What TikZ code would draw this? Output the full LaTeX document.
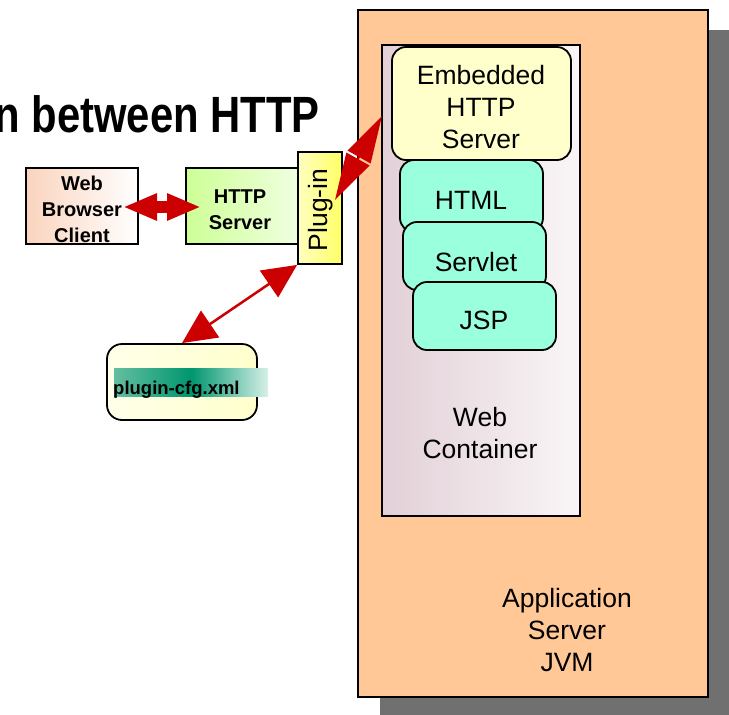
\documentclass[tikz,border=0pt]{standalone}
\usepackage{graphicx}
\usepackage{fontspec}
\setmainfont{Liberation Sans}
\usetikzlibrary{arrows.meta,calc}
\definecolor{peach}{RGB}{255,200,150}
\definecolor{shadowgray}{RGB}{112,112,112}
\definecolor{arrowred}{RGB}{204,0,0}
\definecolor{aqua}{RGB}{153,255,221}
\definecolor{paleyellow}{RGB}{255,255,204}
\definecolor{containerpink}{RGB}{226,208,215}
\definecolor{browserpeach}{RGB}{250,212,190}
\definecolor{httpgreen}{RGB}{205,255,150}
\definecolor{plugyellow}{RGB}{255,255,100}
\definecolor{tealdark}{RGB}{0,150,110}
\definecolor{tealmid}{RGB}{100,190,160}
\definecolor{teallight}{RGB}{215,240,232}
\tikzset{
  box/.style={draw=black, line width=1.8pt, inner sep=0pt},
  bigtext/.style={font=\fontsize{26.5}{32}\selectfont, align=center, inner sep=0pt},
  boldtext/.style={font=\bfseries\fontsize{20}{26}\selectfont, align=center, inner sep=0pt},
  blob/.style={box, rounded corners=14pt, fill=aqua},
  redline/.style={draw=arrowred, fill=arrowred},
}
\begin{document}
\begin{tikzpicture}[x=1pt,y=-1pt]
\useasboundingbox (0,0) rectangle (729,715);
% application server with shadow
\fill[shadowgray] (380,30) rectangle (729,715);
\node[box, fill=peach, minimum width=350pt, minimum height=687pt] (appserver) at (533,353.5) {};
\node[bigtext] (apptext) at (567,630) {Application\\Server\\JVM};
% web container
\node[box, left color=containerpink, right color=white!80!containerpink, minimum width=198pt, minimum height=471pt] (container) at (481,280.5) {};
\node[bigtext] (containertext) at (480,433) {Web\\Container};
% components
\node[box, rounded corners=14pt, fill=paleyellow, minimum width=179pt, minimum height=113pt] (embedded) at (481.5,103.5) {};
\node[bigtext] (embeddedtext) at (481,107) {Embedded\\HTTP\\Server};
\node[blob, minimum width=143pt, minimum height=72pt] (html) at (471.5,196) {};
\node[bigtext] (htmltext) at (471,200) {HTML};
\node[blob, minimum width=143pt, minimum height=68pt] (servlet) at (474.5,256) {};
\node[bigtext] (servlettext) at (476,262) {Servlet};
\node[blob, minimum width=143pt, minimum height=68pt] (jsp) at (484.5,316) {};
\node[bigtext] (jsptext) at (484,320) {JSP};
% title
\node[anchor=base east, inner sep=0pt, font=\bfseries\fontsize{51}{51}\selectfont] (title) at (320,132) {\scalebox{0.82}[1]{n between HTTP}};
% left side boxes
\node[box, left color=browserpeach, right color=white, minimum width=112pt, minimum height=76pt] (browser) at (82,206) {};
\node[boldtext] (browsertext) at (82,209) {Web\\Browser\\Client};
\node[box, left color=httpgreen, right color=white!70!httpgreen, minimum width=112pt, minimum height=76pt] (http) at (242,206) {};
\node[boldtext] (httptext) at (240,210) {HTTP\\Server};
\node[box, left color=white!60!plugyellow, right color=plugyellow, minimum width=44pt, minimum height=112pt] (plugin) at (320,208) {};
\node[bigtext, rotate=90] (plugintext) at (321,210) {Plug-in};
% config file
\node[box, rounded corners=15pt, left color=white!60!paleyellow, right color=paleyellow, minimum width=150pt, minimum height=76pt] (cfg) at (182,382) {};
\node[inner sep=0pt, minimum width=154pt, minimum height=28pt, left color=tealmid, right color=teallight, middle color=tealdark] (cfghl) at (191,382) {};
\node[anchor=base west, inner sep=0pt, font=\bfseries\fontsize{18.5}{22}\selectfont] (cfgtext) at (113,394) {plugin-cfg.xml};
% connectors
\coordinate (bL) at (123,207);
\coordinate (bR) at (201,207);
\draw[redline, line width=12pt, {Triangle[length=34pt,width=25pt]}-{Triangle[length=34pt,width=25pt]}] (bL) -- (bR);
\coordinate (pA) at (335,200);
\coordinate (pB) at (382,116);
\draw[redline, line width=2pt, {Triangle[length=47pt,width=26pt]}-{Triangle[length=47pt,width=26pt]}] (pA) -- (pB);
\draw[redline, line width=2.5pt, {Triangle[length=34pt,width=32pt]}-{Triangle[length=34pt,width=32pt]}] (plugin.south west) -- (cfg.north);
\end{tikzpicture}
\end{document}
